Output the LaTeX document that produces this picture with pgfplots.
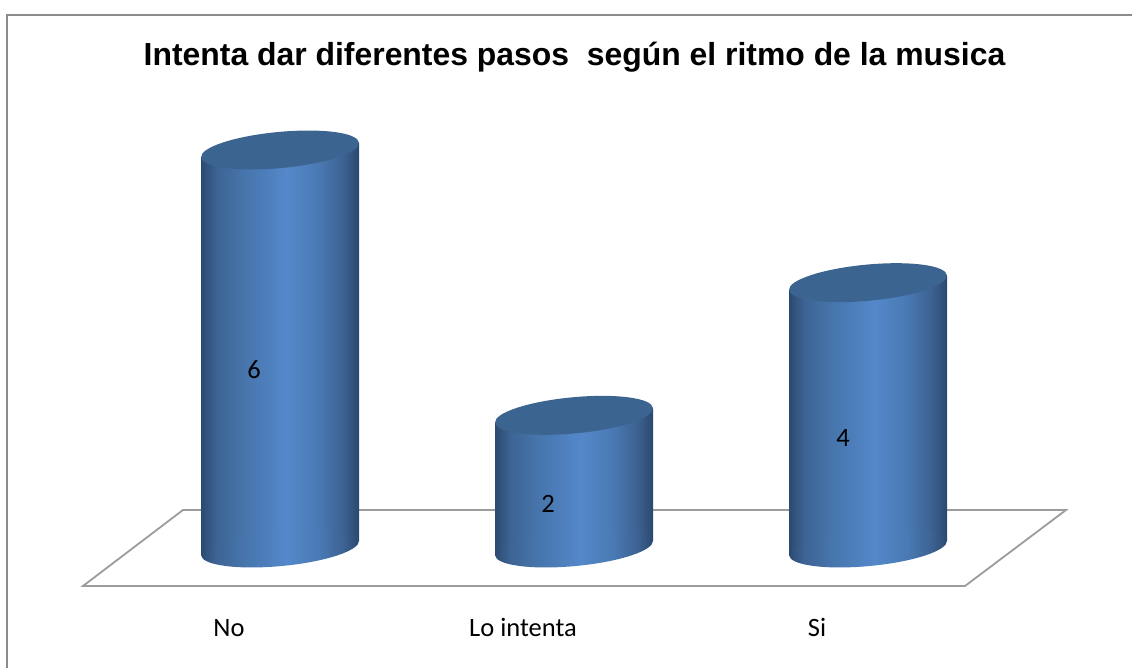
\documentclass[border=0pt]{standalone}
\usepackage{fontspec}
\setmainfont{Carlito}
\newfontfamily\titlefont{Liberation Sans}
\usepackage{pgfplots}
\pgfplotsset{compat=1.18}

\definecolor{capblue}{HTML}{3C6491}
\definecolor{floorgray}{HTML}{9C9C9C}
\definecolor{framegray}{HTML}{8C8C8C}

% body of the cylinders, the central 25bp..75bp is what shows
\pgfdeclarehorizontalshading{cyl}{100bp}{
  rgb(0bp)=(0.173,0.290,0.439);
  rgb(25bp)=(0.173,0.290,0.439);
  rgb(30bp)=(0.239,0.392,0.580);
  rgb(38bp)=(0.275,0.455,0.667);
  rgb(52bp)=(0.329,0.533,0.792);
  rgb(62bp)=(0.290,0.478,0.706);
  rgb(70bp)=(0.235,0.384,0.573);
  rgb(75bp)=(0.165,0.282,0.431);
  rgb(100bp)=(0.165,0.282,0.431)}

\pgfdeclareplotmark{cyltop}{%
  \pgfpathellipse{\pgfpointorigin}{\pgfpoint{78.96pt}{7.38pt}}{\pgfpoint{-1.68pt}{18.02pt}}%
  \pgfsetfillcolor{capblue}\pgfusepathqfill}
\pgfdeclareplotmark{cylbase}{%
  \pgfpathellipse{\pgfpointorigin}{\pgfpoint{78.96pt}{7.38pt}}{\pgfpoint{-1.68pt}{18.02pt}}%
  \pgfshadepath{cyl}{0}\pgfusepath{discard}}

\begin{document}
\begin{tikzpicture}
\useasboundingbox (0pt,0pt) rectangle (1132pt,668pt);
\draw[framegray,line width=2.2pt] (7pt,0pt) -- (7pt,653pt) -- (1132pt,653pt);
\begin{axis}[
    at={(83pt,82pt)}, anchor=south west,
    scale only axis, width=983pt, height=486pt,
    xmin=-0.6701, xmax=2.6735,
    ymin=-0.5729, ymax=6.754,
    clip=false,
    axis line style={draw=none},
    tick style={draw=none},
    ytick=\empty,
    xtick={0,1,2},
    xticklabels={No,Lo intenta,Si},
    xticklabel style={font=\fontsize{26.5}{26.5}\selectfont, text height=18pt, text depth=0pt, xshift=-51pt, yshift=-29pt},
    title={\titlefont\bfseries\fontsize{31.9}{32}\selectfont Intenta dar diferentes pasos~~según el ritmo de la musica},
    title style={at={(0.5,1.0761)},anchor=center},
]
% floor
\addplot[floorgray,line width=1.8pt,no marks] coordinates {
  (-0.6701,-0.5729) (-0.330,0.573) (2.6735,0.573) (2.330,-0.5729)} --cycle;
\addplot[only marks,mark=cylbase] coordinates {(0,0) (1,0) (2,0)};
% cylinder bodies, ends follow the tilt of the ellipses
\addplot[draw=none,shade,shading=cyl,no marks] coordinates {
  (-0.2687,-0.1055) (0.2687,0.1055) (0.2687,6.1055) (-0.2687,5.8945)} --cycle;
\addplot[draw=none,shade,shading=cyl,no marks] coordinates {
  (0.7313,-0.1055) (1.2687,0.1055) (1.2687,2.1055) (0.7313,1.8945)} --cycle;
\addplot[draw=none,shade,shading=cyl,no marks] coordinates {
  (1.7313,-0.1055) (2.2687,0.1055) (2.2687,4.1055) (1.7313,3.8945)} --cycle;
\addplot[only marks,mark=cyltop] coordinates {(0,6) (1,2) (2,4)};
% value labels
\addplot[draw=none,no marks,
    nodes near coords,
    point meta=explicit symbolic,
    nodes near coords style={anchor=center,font=\fontsize{26.5}{26.5}\selectfont,inner sep=0pt},
] table[meta=label] {
x y label
-0.0884 2.685 6
0.9116 0.664 2
1.915 1.659 4
};
\end{axis}
\end{tikzpicture}
\end{document}
